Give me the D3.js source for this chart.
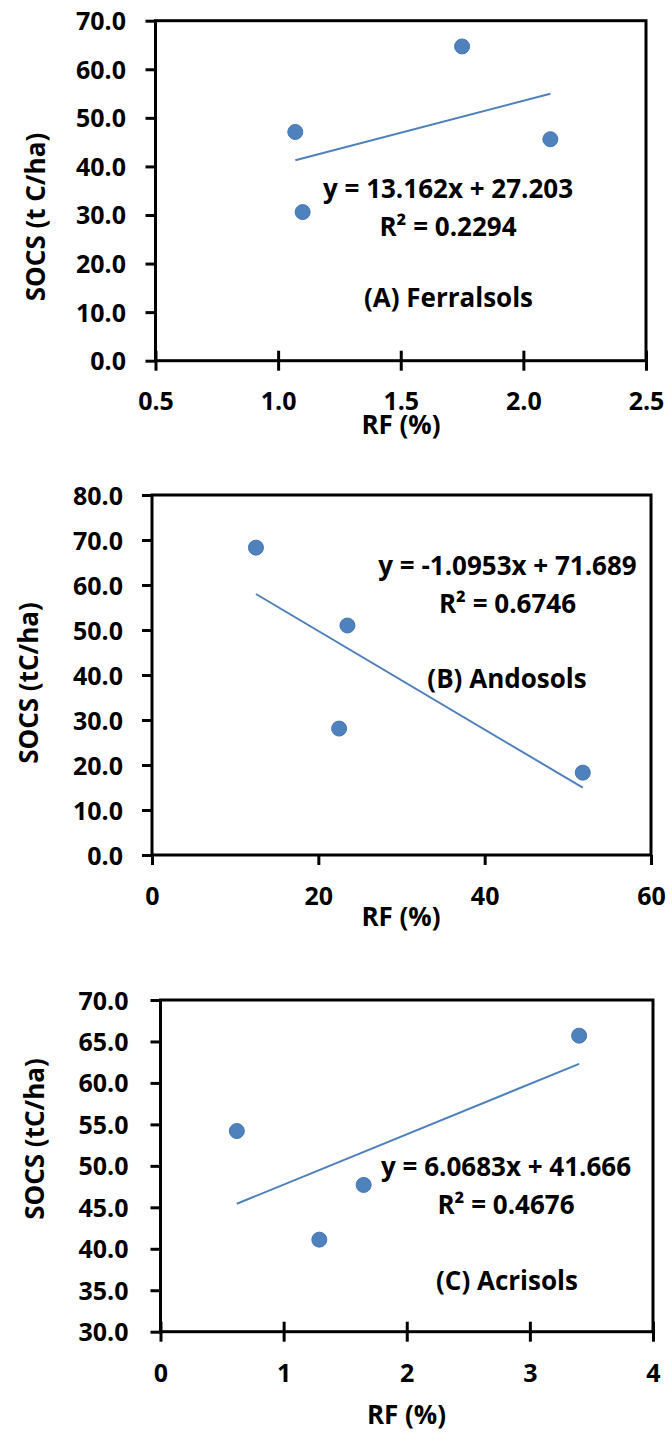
<!DOCTYPE html>
<html>
<head>
<meta charset="utf-8">
<script src="https://cdn.jsdelivr.net/npm/d3@7"></script>
<style>
  body { margin: 0; background: #fff; }
  svg text { font-family: "Open Sans", sans-serif; font-weight: 700; fill: #000; }
</style>
</head>
<body>
<div id="chart"></div>
<script>
// (A) Ferralsols
var rfA = [1.07, 1.10, 1.75, 2.11];
var socsA = [47.1, 30.6, 64.7, 45.6];
var fitA = [13.162, 27.203];
var xTicksA = [0.5, 1.0, 1.5, 2.0, 2.5];
var yTicksA = [0, 10, 20, 30, 40, 50, 60, 70];

// (B) Andosols
var rfB = [12.5, 23.5, 22.5, 51.8];
var socsB = [68.3, 51.0, 28.1, 18.3];
var fitB = [-1.0953, 71.689];
var xTicksB = [0, 20, 40, 60];
var yTicksB = [0, 10, 20, 30, 40, 50, 60, 70, 80];

// (C) Acrisols
var rfC = [0.62, 1.29, 1.65, 3.40];
var socsC = [54.2, 41.1, 47.7, 65.7];
var fitC = [6.0683, 41.666];
var xTicksC = [0, 1, 2, 3, 4];
var yTicksC = [30, 35, 40, 45, 50, 55, 60, 65, 70];

var blue = "#4f81bd";

var svg = d3.select("#chart").append("svg")
  .attr("width", 672)
  .attr("height", 1433);

svg.append("rect").attr("width", 672).attr("height", 1433).attr("fill", "#fff");

function panel(o) {
  var x = d3.scaleLinear().domain(d3.extent(o.xTicks)).range([o.left, o.right]);
  var y = d3.scaleLinear().domain(d3.extent(o.yTicks)).range([o.bottom, o.top]);

  var g = svg.append("g");

  // frame
  g.append("rect")
    .attr("x", o.left).attr("y", o.top)
    .attr("width", o.right - o.left).attr("height", o.bottom - o.top)
    .attr("fill", "none").attr("stroke", "#000").attr("stroke-width", 3);

  var ya = g.append("g")
    .attr("transform", "translate(" + o.left + ",0)")
    .call(d3.axisLeft(y).tickValues(o.yTicks).tickSize(10).tickSizeOuter(0).tickFormat(d3.format(".1f")));
  ya.select(".domain").remove();
  ya.selectAll("line").attr("stroke-width", 3);
  ya.selectAll("text")
    .attr("x", -o.yLabOff).attr("dy", "0.36em")
    .style("font-size", "25px");

  var xa = g.append("g")
    .attr("transform", "translate(0," + o.bottom + ")")
    .call(d3.axisBottom(x).tickValues(o.xTicks).tickSize(10).tickSizeOuter(0).tickFormat(d3.format(o.xFmt)));
  xa.select(".domain").remove();
  xa.selectAll("line").attr("stroke-width", 3).attr("y1", o.cross ? -10 : 0);
  xa.selectAll("text")
    .attr("y", o.xLabOff).attr("dy", 0)
    .style("font-size", "25px");

  // titles
  g.append("text")
    .attr("transform", "translate(" + o.yTitle[0] + "," + o.yTitle[1] + ") rotate(-90)")
    .attr("text-anchor", "middle")
    .style("font-size", "26px")
    .text(o.yName);

  g.append("text")
    .attr("x", o.xTitle[0]).attr("y", o.xTitle[1])
    .attr("text-anchor", "middle")
    .style("font-size", "26px")
    .text("RF (%)");

  // trend line
  var xr = d3.extent(o.rf);
  g.append("line")
    .attr("x1", x(xr[0])).attr("y1", y(o.fit[0] * xr[0] + o.fit[1]))
    .attr("x2", x(xr[1])).attr("y2", y(o.fit[0] * xr[1] + o.fit[1]))
    .attr("stroke", blue).attr("stroke-width", 2);

  // points
  g.selectAll("circle")
    .data(o.rf.map(function (d, i) { return [d, o.socs[i]]; }))
    .enter().append("circle")
    .attr("cx", function (d) { return x(d[0]); })
    .attr("cy", function (d) { return y(d[1]); })
    .attr("r", 7.5)
    .attr("fill", blue)
    .attr("stroke", "#4677b1").attr("stroke-width", 1);

  // equation and label
  var sign = o.fit[1] < 0 ? " - " : " + ";
  g.append("text")
    .attr("x", o.eq[0]).attr("y", o.eq[1])
    .attr("text-anchor", "middle")
    .style("font-size", "26px")
    .text("y = " + o.fit[0] + "x" + sign + Math.abs(o.fit[1]).toFixed(3));
  g.append("text")
    .attr("x", o.eq[0]).attr("y", o.r2[1])
    .attr("text-anchor", "middle")
    .style("font-size", "26px")
    .text("R² = " + o.r2[0]);
  g.append("text")
    .attr("x", o.name[0]).attr("y", o.name[1])
    .attr("text-anchor", "middle")
    .style("font-size", "26px")
    .text(o.name[2]);
}

panel({
  rf: rfA, socs: socsA, fit: fitA, xTicks: xTicksA, yTicks: yTicksA, xFmt: ".1f",
  left: 155.5, right: 646, top: 20.7, bottom: 360.7, cross: true,
  yLabOff: 29.5, xLabOff: 49.5,
  yName: "SOCS (t C/ha)", yTitle: [45, 217], xTitle: [401, 434],
  eq: [448, 198], r2: ["0.2294", 235.5], name: [448.5, 307, "(A) Ferralsols"]
});

panel({
  rf: rfB, socs: socsB, fit: fitB, xTicks: xTicksB, yTicks: yTicksB, xFmt: "d",
  left: 152, right: 651, top: 495, bottom: 855, cross: false,
  yLabOff: 29, xLabOff: 50,
  yName: "SOCS (tC/ha)", yTitle: [38, 683], xTitle: [401, 926],
  eq: [507.5, 575], r2: ["0.6746", 613], name: [507, 688, "(B) Andosols"]
});

panel({
  rf: rfC, socs: socsC, fit: fitC, xTicks: xTicksC, yTicks: yTicksC, xFmt: "d",
  left: 160.5, right: 653, top: 1000, bottom: 1331.7, cross: true,
  yLabOff: 32, xLabOff: 50.3,
  yName: "SOCS (tC/ha)", yTitle: [44, 1139], xTitle: [406.5, 1424],
  eq: [506, 1176], r2: ["0.4676", 1214], name: [507, 1290, "(C) Acrisols"]
});
</script>
</body>
</html>
